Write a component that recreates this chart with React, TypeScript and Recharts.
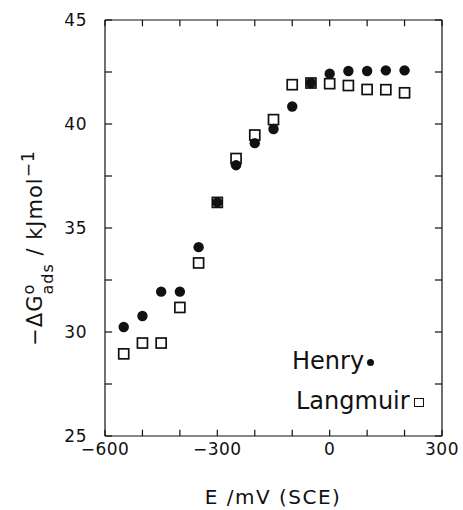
import React from "react";
import { ScatterChart, Scatter, XAxis, YAxis, ReferenceLine } from "recharts";

// E / mV (SCE)
const potentials = [-550, -500, -450, -400, -350, -300, -250, -200, -150, -100, -50, 0, 50, 100, 150, 200];
// -ΔG°ads / kJ mol-1
const henryValues = [30.24, 30.77, 31.94, 31.94, 34.08, 36.23, 38.02, 39.08, 39.76, 40.84, 41.97, 42.42, 42.55, 42.55, 42.58, 42.58];
const langmuirValues = [28.95, 29.47, 29.47, 31.18, 33.32, 36.23, 38.34, 39.47, 40.21, 41.89, 41.97, 41.94, 41.85, 41.66, 41.65, 41.5];

const xTicks = [-600, -500, -400, -300, -200, -100, 0, 100, 200, 300];
const xLabelled = [-600, -300, 0, 300];
const yTicks = [25, 27.5, 30, 32.5, 35, 37.5, 40, 42.5, 45];
const yLabelled = [25, 30, 35, 40, 45];

const henryData = potentials.map((e, i) => ({ e, g: henryValues[i] }));
const langmuirData = potentials.map((e, i) => ({ e, g: langmuirValues[i] }));

const FONT = "'DejaVu Sans', sans-serif";
const INK = "#111";

const fmt = (v: number) => (v < 0 ? "\u2212" + Math.abs(v) : String(v));

const BottomTick = (props: any) => {
  const { x, y, payload } = props;
  const v = payload.value;
  if (!xLabelled.includes(v)) return <g />;
  return (
    <text x={x} y={y + 19} textAnchor="middle" fontFamily={FONT} fontSize={17} letterSpacing={0.5} fill={INK}>
      {fmt(v)}
    </text>
  );
};

const LeftTick = (props: any) => {
  const { x, y, payload } = props;
  const v = payload.value;
  if (!yLabelled.includes(v)) return <g />;
  return (
    <text x={x - 18} y={y + 6} textAnchor="end" fontFamily={FONT} fontSize={17} letterSpacing={0.5} fill={INK}>
      {v}
    </text>
  );
};

const Dot = (props: any) => <circle cx={props.cx} cy={props.cy} r={5.2} fill={INK} />;
const OpenSquare = (props: any) => (
  <rect x={props.cx - 5} y={props.cy - 5} width={10} height={10} fill="#fff" stroke={INK} strokeWidth={1.7} />
);

const frame = { stroke: INK, strokeWidth: 1.2, ifOverflow: "visible" as const };

export default function App() {
  return (
    <div style={{ position: "absolute", left: 0, top: 0, width: 463, height: 510 }}>
      <ScatterChart width={463} height={510} margin={{ top: 20, right: 21, bottom: 73, left: 104 }}>
        <XAxis
          dataKey="e"
          type="number"
          domain={[-600, 300]}
          ticks={xTicks}
          interval={0}
          tickSize={0}
          tickMargin={0}
          tick={BottomTick}
          axisLine={false}
          tickLine={false}
          height={1}
        />
        <YAxis
          dataKey="g"
          type="number"
          domain={[25, 45]}
          ticks={yTicks}
          interval={0}
          tickSize={0}
          tickMargin={0}
          tick={LeftTick}
          axisLine={false}
          tickLine={false}
          width={1}
        />

        {/* box frame */}
        <ReferenceLine x={-600} {...frame} />
        <ReferenceLine x={300} {...frame} />
        <ReferenceLine y={25} {...frame} />
        <ReferenceLine y={45} {...frame} />

        {/* inward ticks on all four sides */}
        {xTicks.map((t) => (
          <ReferenceLine key={"b" + t} segment={[{ x: t, y: 25 }, { x: t, y: 25.3 }]} {...frame} />
        ))}
        {xTicks.map((t) => (
          <ReferenceLine key={"t" + t} segment={[{ x: t, y: 45 }, { x: t, y: 44.7 }]} {...frame} />
        ))}
        {yTicks.map((t) => (
          <ReferenceLine key={"l" + t} segment={[{ x: -600, y: t }, { x: -581, y: t }]} {...frame} />
        ))}
        {yTicks.map((t) => (
          <ReferenceLine key={"r" + t} segment={[{ x: 281, y: t }, { x: 300, y: t }]} {...frame} />
        ))}

        <Scatter name="Langmuir" data={langmuirData} shape={OpenSquare} isAnimationActive={false} />
        <Scatter name="Henry" data={henryData} shape={Dot} isAnimationActive={false} />
      </ScatterChart>

      {/* legend */}
      <div style={{ position: "absolute", left: 292, top: 346, fontFamily: FONT, fontSize: 24, color: INK, lineHeight: "30px" }}>
        Henry
        <span style={{ display: "inline-block", width: 7, height: 7, borderRadius: "50%", background: INK, marginLeft: 3, verticalAlign: "middle" }} />
      </div>
      <div style={{ position: "absolute", left: 296, top: 386, fontFamily: FONT, fontSize: 24, color: INK, lineHeight: "30px" }}>
        Langmuir
        <span style={{ display: "inline-block", width: 8, height: 7, border: `1.6px solid ${INK}`, marginLeft: 4, verticalAlign: "middle" }} />
      </div>

      {/* y axis title */}
      <div
        style={{
          position: "absolute",
          left: 34,
          top: 248,
          transform: "translate(-50%, -50%) rotate(-90deg)",
          whiteSpace: "nowrap",
          fontFamily: FONT,
          fontSize: 21,
          letterSpacing: 1,
          color: INK,
        }}
      >
        {"\u2212\u0394G"}
        <span style={{ display: "inline-flex", flexDirection: "column", verticalAlign: "middle", lineHeight: "14px", fontSize: 16 }}>
          <span>o</span>
          <span style={{ position: "relative", top: 5 }}>ads</span>
        </span>
        {" / kJmol"}
        <sup style={{ fontSize: 17 }}>{"\u22121"}</sup>
      </div>

      {/* x axis title */}
      <div
        style={{
          position: "absolute",
          left: 273,
          top: 497,
          transform: "translate(-50%, -50%)",
          whiteSpace: "nowrap",
          fontFamily: FONT,
          fontSize: 20,
          letterSpacing: 1.5,
          color: INK,
        }}
      >
        E /mV (SCE)
      </div>
    </div>
  );
}
